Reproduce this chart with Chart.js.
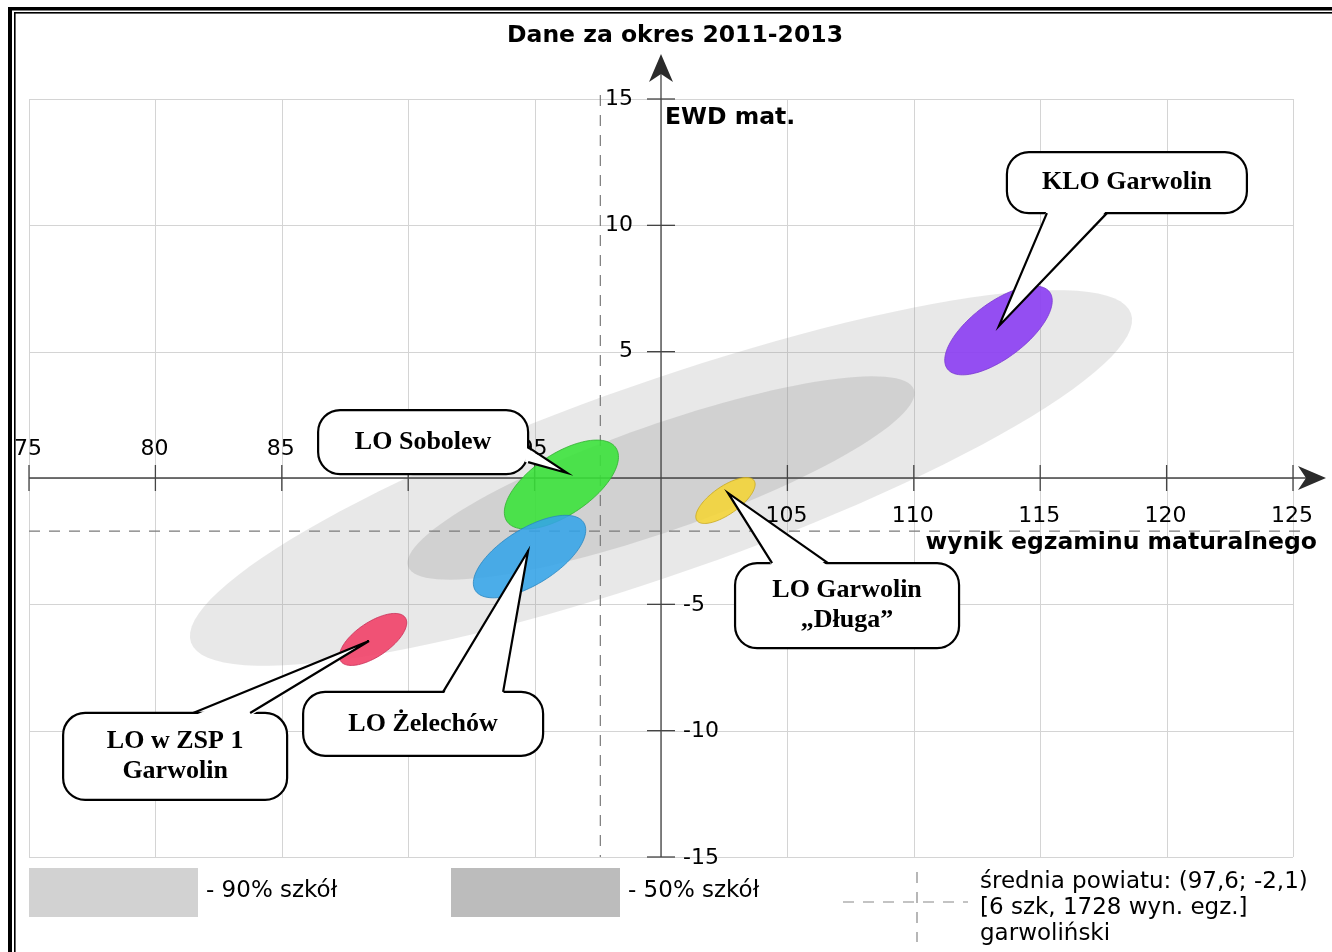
<!DOCTYPE html>
<html>
<head>
<meta charset="utf-8">
<title>Dane za okres 2011-2013</title>
<script src="https://cdn.jsdelivr.net/npm/chart.js@4/dist/chart.umd.min.js"></script>
<style>
    body { margin: 0; background: #fff; }
    canvas { display: block; }
</style>
</head>
<body>
<canvas id="ewd-chart" width="1332" height="952"></canvas>
<script>
// EWD chart - exam result vs. EWD, Garwolin county

// Axis ticks
const xTicks = [75, 80, 85, 90, 95, 100, 105, 110, 115, 120, 125];
const yTicks = [-15, -10, -5, 0, 5, 10, 15];

// Background bands (90% / 50% of schools), data units
const bandLabels = ['- 90% szkół', '- 50% szkół'];
const bandCenterX = [100, 100];
const bandCenterY = [0, 0];
const bandSemiMajor = [19.7, 10.6];
const bandSemiMinor = [3.8, 2.1];
const bandAngle = [19.3, 19.3];

// County average
const countyMeanX = 97.6;
const countyMeanY = -2.1;
const countyLines = ['średnia powiatu: (97,6; -2,1)', '[6 szk, 1728 wyn. egz.]', 'garwoliński'];

// Schools
const schoolNames = [['KLO Garwolin'], ['LO Sobolew'], ['LO Garwolin', '„Długa”'], ['LO Żelechów'], ['LO w ZSP 1', 'Garwolin']];
const schoolX = [113.35, 96.06, 102.55, 94.80, 88.61];
const schoolY = [5.84, -0.26, -0.89, -3.11, -6.39];
const schoolSemiMajor = [2.53, 2.6, 1.38, 2.53, 1.54];
const schoolSemiMinor = [1.1, 1.2, 0.55, 1.1, 0.68];
const schoolAngle = [37, 34, 35, 32, 34];

// Callouts: box centre and pointer tip, data units
const calloutX = [118.43, 90.59, 107.36, 90.59, 80.78];
const calloutY = [11.69, 1.42, -5.05, -9.73, -11.02];
const tipX = [113.37, 96.28, 102.65, 94.74, 88.45];
const tipY = [6.02, 0.20, -0.59, -2.89, -6.45];

// Styles
const schoolColors = ['rgba(140,64,242,0.92)', 'rgba(56,226,56,0.88)', 'rgba(244,212,52,0.88)', 'rgba(52,164,232,0.88)', 'rgba(240,60,100,0.88)'];
const schoolEdges = ['#7a3ad0', '#30b030', '#c8a820', '#2a86c0', '#c83058'];
const calloutStyle = [
    { w: 240, h: 61, side: 'bottom', b0: 40, b1: 100 },
    { w: 210, h: 64, side: 'right', b0: 37, b1: 52 },
    { w: 224, h: 85, side: 'top', b0: 37, b1: 93 },
    { w: 240, h: 64, side: 'top', b0: 140, b1: 200 },
    { w: 224, h: 87, side: 'top', b0: 130, b1: 187 }
];
const SANS = "'DejaVu Sans', Verdana, sans-serif";
const SERIF = "'Liberation Serif', 'Times New Roman', serif";

// Ellipse path in data space, mapped to pixels through the scales
function ellipsePath(ctx, sx, sy, cx, cy, a, b, angleDeg) {
    const th = angleDeg * Math.PI / 180;
    ctx.beginPath();
    for (let i = 0; i <= 120; i++) {
        const t = i / 120 * Math.PI * 2;
        const dx = a * Math.cos(t) * Math.cos(th) - b * Math.sin(t) * Math.sin(th);
        const dy = a * Math.cos(t) * Math.sin(th) + b * Math.sin(t) * Math.cos(th);
        const px = sx.getPixelForValue(cx + dx);
        const py = sy.getPixelForValue(cy + dy);
        if (i === 0) ctx.moveTo(px, py); else ctx.lineTo(px, py);
    }
    ctx.closePath();
}

function arrowHead(ctx, x, y, dir) {
    // dir: 'right' or 'up'
    ctx.save();
    ctx.translate(x, y);
    if (dir === 'up') ctx.rotate(-Math.PI / 2);
    ctx.beginPath();
    ctx.moveTo(0, 0);
    ctx.lineTo(-28, -12);
    ctx.lineTo(-20, 0);
    ctx.lineTo(-28, 12);
    ctx.closePath();
    ctx.fillStyle = '#2b2b2b';
    ctx.fill();
    ctx.restore();
}

function drawCallout(ctx, cx, cy, st, tx, ty, lines) {
    const left = cx - st.w / 2, top = cy - st.h / 2;
    const right = left + st.w, bottom = top + st.h;
    ctx.beginPath();
    ctx.roundRect(left, top, st.w, st.h, 22);
    ctx.fillStyle = '#fff';
    ctx.fill();
    ctx.lineWidth = 2.2;
    ctx.strokeStyle = '#000';
    ctx.stroke();

    let p0, p1, q0, q1;
    if (st.side === 'bottom') {
        p0 = [left + st.b0, bottom]; p1 = [left + st.b1, bottom];
        q0 = [p0[0], bottom - 3]; q1 = [p1[0], bottom - 3];
    } else if (st.side === 'top') {
        p0 = [left + st.b0, top]; p1 = [left + st.b1, top];
        q0 = [p0[0], top + 3]; q1 = [p1[0], top + 3];
    } else {
        p0 = [right, top + st.b0]; p1 = [right, top + st.b1];
        q0 = [right - 3, p0[1]]; q1 = [right - 3, p1[1]];
    }
    ctx.beginPath();
    ctx.moveTo(q0[0], q0[1]);
    ctx.lineTo(tx, ty);
    ctx.lineTo(q1[0], q1[1]);
    ctx.closePath();
    ctx.fill();
    ctx.beginPath();
    ctx.moveTo(p0[0], p0[1]);
    ctx.lineTo(tx, ty);
    ctx.lineTo(p1[0], p1[1]);
    ctx.lineJoin = 'miter';
    ctx.stroke();

    ctx.fillStyle = '#000';
    ctx.font = 'bold 26px ' + SERIF;
    ctx.textAlign = 'center';
    ctx.textBaseline = 'middle';
    const lh = 30;
    const y0 = cy - (lines.length - 1) * lh / 2;
    lines.forEach((ln, i) => ctx.fillText(ln, cx, y0 + i * lh));
}

// Everything except the centre points is drawn by this plugin
const ewdDecor = {
    id: 'ewdDecor',
    beforeDraw(chart) {
        const ctx = chart.ctx;
        const sx = chart.scales.x, sy = chart.scales.y;
        const area = chart.chartArea;
        ctx.save();
        ctx.fillStyle = '#fff';
        ctx.fillRect(0, 0, chart.width, chart.height);

        // grid
        ctx.strokeStyle = '#d4d4d4';
        ctx.lineWidth = 1;
        xTicks.forEach(v => {
            const px = Math.round(sx.getPixelForValue(v)) + 0.5;
            ctx.beginPath(); ctx.moveTo(px, area.top); ctx.lineTo(px, area.bottom); ctx.stroke();
        });
        yTicks.forEach(v => {
            const py = Math.round(sy.getPixelForValue(v)) + 0.5;
            ctx.beginPath(); ctx.moveTo(area.left, py); ctx.lineTo(area.right, py); ctx.stroke();
        });

        // bands
        const bandFill = ['rgba(150,150,150,0.22)', 'rgba(150,150,150,0.28)'];
        bandSemiMajor.forEach((a, i) => {
            ellipsePath(ctx, sx, sy, bandCenterX[i], bandCenterY[i], a, bandSemiMinor[i], bandAngle[i]);
            ctx.fillStyle = bandFill[i];
            ctx.fill();
        });

        // county mean dashed lines
        const mx = sx.getPixelForValue(countyMeanX), my = sy.getPixelForValue(countyMeanY);
        ctx.strokeStyle = '#7a7a7a';
        ctx.lineWidth = 1.2;
        ctx.setLineDash([11, 9]);
        ctx.beginPath(); ctx.moveTo(area.left, my); ctx.lineTo(area.right + 10, my); ctx.stroke();
        ctx.beginPath(); ctx.moveTo(mx, area.top - 4); ctx.lineTo(mx, area.bottom); ctx.stroke();
        ctx.setLineDash([]);

        // axes through (100, 0)
        const ox = sx.getPixelForValue(100), oy = sy.getPixelForValue(0);
        ctx.strokeStyle = '#444';
        ctx.lineWidth = 1.3;
        ctx.beginPath(); ctx.moveTo(area.left, oy); ctx.lineTo(area.right + 20, oy); ctx.stroke();
        ctx.beginPath(); ctx.moveTo(ox, area.bottom); ctx.lineTo(ox, area.top - 30); ctx.stroke();
        arrowHead(ctx, area.right + 33, oy, 'right');
        arrowHead(ctx, ox, area.top - 45, 'up');

        // ticks and labels
        ctx.fillStyle = '#000';
        ctx.font = '22px ' + SANS;
        ctx.textBaseline = 'middle';
        xTicks.forEach(v => {
            if (v === 100) return;
            const px = sx.getPixelForValue(v);
            ctx.beginPath(); ctx.moveTo(px, oy - 13); ctx.lineTo(px, oy + 13); ctx.stroke();
            ctx.textAlign = 'center';
            ctx.fillText(String(v), px - 1, v < 100 ? oy - 29 : oy + 38);
        });
        yTicks.forEach(v => {
            if (v === 0) return;
            const py = sy.getPixelForValue(v);
            ctx.beginPath(); ctx.moveTo(ox - 14, py); ctx.lineTo(ox + 14, py); ctx.stroke();
            if (v > 0) {
                ctx.textAlign = 'right';
                ctx.fillText(String(v), ox - 28, py);
            } else {
                ctx.textAlign = 'left';
                ctx.fillText(String(v), ox + 22, py + 1);
            }
        });
        ctx.restore();
    },
    afterDatasetsDraw(chart) {
        const ctx = chart.ctx;
        const sx = chart.scales.x, sy = chart.scales.y;
        const area = chart.chartArea;
        ctx.save();

        // school ellipses
        schoolX.forEach((x, i) => {
            ellipsePath(ctx, sx, sy, x, schoolY[i], schoolSemiMajor[i], schoolSemiMinor[i], schoolAngle[i]);
            ctx.fillStyle = schoolColors[i];
            ctx.fill();
            ctx.strokeStyle = schoolEdges[i];
            ctx.lineWidth = 0.8;
            ctx.stroke();
        });

        // callouts
        schoolNames.forEach((lines, i) => {
            drawCallout(ctx, sx.getPixelForValue(calloutX[i]), sy.getPixelForValue(calloutY[i]), calloutStyle[i],
                sx.getPixelForValue(tipX[i]), sy.getPixelForValue(tipY[i]), lines);
        });

        // titles
        const ox = sx.getPixelForValue(100), oy = sy.getPixelForValue(0);
        ctx.fillStyle = '#000';
        ctx.textBaseline = 'middle';
        ctx.font = 'bold 23.5px ' + SANS;
        ctx.textAlign = 'center';
        ctx.fillText('Dane za okres 2011-2013', 675, 36);
        ctx.textAlign = 'left';
        ctx.fillText('EWD mat.', ox + 4, 118);
        ctx.textAlign = 'right';
        ctx.fillText('wynik egzaminu maturalnego', 1317, oy + 65);

        // legend
        const ly = area.bottom + 11;
        ctx.fillStyle = '#d2d2d2';
        ctx.fillRect(29, ly, 169, 49);
        ctx.fillStyle = '#bcbcbc';
        ctx.fillRect(451, ly, 169, 49);
        ctx.fillStyle = '#000';
        ctx.font = '23px ' + SANS;
        ctx.textAlign = 'left';
        ctx.fillText(bandLabels[0], 206, ly + 23);
        ctx.fillText(bandLabels[1], 628, ly + 23);
        ctx.strokeStyle = '#888';
        ctx.lineWidth = 1.2;
        ctx.setLineDash([11, 9]);
        ctx.beginPath(); ctx.moveTo(843, ly + 34); ctx.lineTo(968, ly + 34); ctx.stroke();
        ctx.beginPath(); ctx.moveTo(917, ly + 4); ctx.lineTo(917, ly + 74); ctx.stroke();
        ctx.setLineDash([]);
        countyLines.forEach((t, i) => ctx.fillText(t, 980, ly + 14 + i * 26));

        // double frame
        ctx.fillStyle = '#000';
        ctx.fillRect(8, 7, 4, chart.height);
        ctx.fillRect(8, 7, chart.width, 3.5);
        ctx.fillRect(14, 12, 1.6, chart.height);
        ctx.fillRect(14, 12, chart.width, 1.6);
        ctx.restore();
    }
};

const ctx = document.getElementById('ewd-chart').getContext('2d');
new Chart(ctx, {
    type: 'scatter',
    data: {
        datasets: [{
            label: 'szkoły',
            data: schoolX.map((x, i) => ({ x: x, y: schoolY[i] })),
            pointRadius: 0,
            pointHoverRadius: 0
        }]
    },
    options: {
        responsive: false,
        animation: false,
        layout: { padding: { left: 29, right: 39, top: 99, bottom: 95 } },
        scales: {
            x: { type: 'linear', min: 75, max: 125, display: false },
            y: { type: 'linear', min: -15, max: 15, display: false }
        },
        plugins: {
            legend: { display: false },
            tooltip: { enabled: false }
        }
    },
    plugins: [ewdDecor]
});
</script>
</body>
</html>
